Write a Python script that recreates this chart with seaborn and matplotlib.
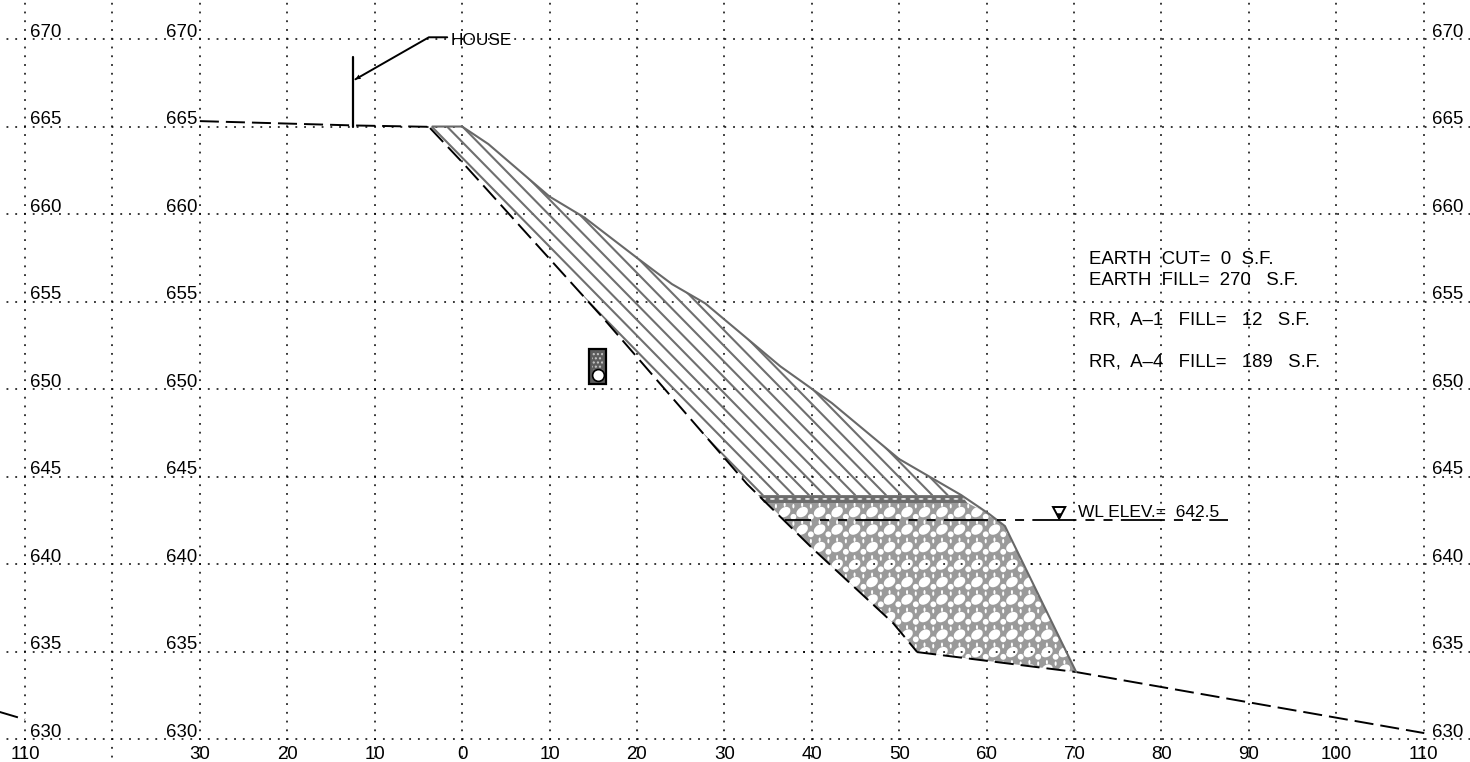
import matplotlib
matplotlib.use("Agg")
import matplotlib.pyplot as plt
from matplotlib.collections import EllipseCollection
from matplotlib.patches import Rectangle
from matplotlib.path import Path
from matplotlib.transforms import Affine2D, IdentityTransform
import numpy as np
import seaborn as sns

# grid and labels
grid_x = [-50, -40, -30, -20, -10, 0, 10, 20, 30, 40, 50, 60, 70, 80, 90, 100, 110]
station_labels = ["110", "", "30", "20", "10", "0", "10", "20", "30", "40", "50", "60", "70", "80", "90", "100", "110"]
elevations = [670, 665, 660, 655, 650, 645, 640, 635, 630]

# existing ground, dashed
top_ground_x = [-30, -12.2, -3.4]
top_ground_y = [665.31, 665.06, 664.98]
slope_ground_x = [-3.66, 0.11, 16.13, 32.6, 40.05, 49.3, 52.06]
slope_ground_y = [664.91, 662.91, 654.06, 644.57, 640.91, 636.63, 634.97]
toe_ground_x = [52.06, 70.25, 110.07]
toe_ground_y = [634.97, 633.83, 630.34]
far_ground_x = [-52.9, -50]
far_ground_y = [631.55, 631.12]

# finished slope, gray
finish_x = [-3.4, 0, 3, 10, 14, 20, 24, 27.8, 36.4, 42.3, 50, 57.1, 60.3, 62.1, 70.25]
finish_y = [665, 665, 664, 661, 659.8, 657.5, 656, 654.9, 651.3, 649.2, 646, 643.94, 642.86, 642.17, 633.83]

# fill zones
a1_x = [-3.4, 0, 3, 10, 14, 20, 24, 27.8, 36.4, 42.3, 50, 57.1, 33.87, 32.6, 16.13, 0.11, -3.66]
a1_y = [665, 665, 664, 661, 659.8, 657.5, 656, 654.9, 651.3, 649.2, 646, 643.94, 643.94, 644.57, 654.06, 662.91, 664.91]
band_x = [33.87, 57.1, 57.8, 34.55]
band_y = [643.94, 643.94, 643.49, 643.49]
a4_x = [34.55, 57.8, 60.3, 62.1, 70.25, 52.06, 49.3, 40.05, 34.9]
a4_y = [643.49, 643.49, 642.86, 642.17, 633.83, 634.97, 636.63, 640.91, 643.49]

# water level and house
wl_x = [36.9, 87.6]
wl_y = [642.5, 642.5]
house_x = [-12.47, -12.47]
house_y = [669, 665]
leader_x = [-12.2, -3.8, -1.7]
leader_y = [667.7, 670.1, 670.1]
triangle_x = [67.6, 69, 68.3]
triangle_y = [643.26, 643.26, 642.6]

quantities = ["EARTH  CUT=  0  S.F.", "EARTH  FILL=  270   S.F.", "RR,  A–1   FILL=   12   S.F.", "RR,  A–4   FILL=   189   S.F."]
quantity_y = [657.14, 655.94, 653.66, 651.31]

FONT = 13.4
DOT_STYLE_X = (2.78, (1.2, 4.53))
DOT_STYLE_Y = (1.47, (1.2, 4.53))

sns.set_theme(style="white")
plt.rcParams["font.family"] = ["Liberation Sans", "DejaVu Sans"]

fig = plt.figure(figsize=(14.7, 7.62), dpi=100)
ax = fig.add_axes([0, 0, 1, 1])
ax.set_xlim(-52.86, 115.3)
ax.set_ylim(628.69, 672.23)
for s in ax.spines.values():
    s.set_visible(False)

ax.set_xticks(grid_x, labels=station_labels)
ax.set_yticks(elevations, labels=[])
ax.tick_params(axis="x", length=0, pad=-11.5, labelsize=FONT, colors="black")
ax.tick_params(axis="y", length=0)
ax.xaxis.grid(True, color="black", linewidth=1.1, linestyle=DOT_STYLE_X)
ax.yaxis.grid(True, color="black", linewidth=1.1, linestyle=DOT_STYLE_Y)
ax.set_axisbelow(True)

for elev in elevations:
    ax.text(-49.4, elev + 0.12, str(elev), fontsize=FONT, va="baseline", ha="left", color="black")
    ax.text(-30.3, elev + 0.12, str(elev), fontsize=FONT, va="baseline", ha="right", color="black")
    ax.text(111.0, elev + 0.12, str(elev), fontsize=FONT, va="baseline", ha="left", color="black")

# rock fill
rock = ax.fill(a4_x, a4_y, color="#9a9a9a", lw=0, zorder=1)[0]
gx, gy = np.meshgrid(np.arange(30.9, 72, 2.0), np.arange(632.97, 644, 1.0))
gx, gy = gx.ravel(), gy.ravel()
shapes = [(0, 0, 9.0, 6.6, 35), (1.0, -0.27, 4.2, 4.2, 0), (0, -0.58, 1.5, 3.2, 0), (1.0, -0.66, 1.5, 3.2, 0)]
for dx, dy, w, h, ang in shapes:
    ec = EllipseCollection(np.full(gx.size, w), np.full(gx.size, h), np.full(gx.size, ang), units="points",
                           offsets=np.column_stack([gx + dx, gy + dy]), offset_transform=ax.transData,
                           facecolors="white", edgecolors="none", zorder=1.1)
    ax.add_collection(ec)
    ec.set_clip_path(rock)

# grid dots only show through the big holes of the rock
holes = []
for cx, cy in ax.transData.transform(np.column_stack([gx, gy])):
    holes.append(Path.unit_circle().transformed(Affine2D().scale(6.2, 4.6).rotate_deg(35).translate(cx, cy)))
hole_path = Path.make_compound_path(*holes)
for elev in [640, 635]:
    dots = ax.axhline(elev, color="black", lw=1.1, linestyle=DOT_STYLE_Y, zorder=1.15)
    dots.set_clip_path(hole_path, IdentityTransform())

# dark band above the rock
band = ax.fill(band_x, band_y, color="#6c6c6c", lw=0, zorder=1.2)[0]
bx = np.arange(34.5, 58, 1.0)
ec = EllipseCollection(np.full(bx.size, 3.6), np.full(bx.size, 1.4), np.zeros(bx.size), units="points",
                       offsets=np.column_stack([bx, np.full(bx.size, 643.72)]), offset_transform=ax.transData,
                       facecolors="#e4e4e4", edgecolors="none", zorder=1.3)
ax.add_collection(ec)
ec.set_clip_path(band)

# diagonal hatch of the A-1 zone
a1_clip = ax.fill(a1_x, a1_y, facecolor="none", edgecolor="none", zorder=1)[0]
for x0 in np.arange(-1.72 - 1.762 * 6, 60, 1.762):
    hatch_line, = ax.plot([x0, x0 + 41.4], [665, 643.94], color="#6f6f6f", lw=1.5, zorder=1.5)
    hatch_line.set_clip_path(a1_clip)

ground_style = (0, (9.8, 3.6))
for xs, ys in [(top_ground_x, top_ground_y), (slope_ground_x, slope_ground_y),
               (toe_ground_x, toe_ground_y), (far_ground_x, far_ground_y)]:
    sns.lineplot(x=xs, y=ys, ax=ax, color="black", linewidth=1.4, linestyle=ground_style,
                 sort=False, estimator=None, zorder=3)

sns.lineplot(x=finish_x, y=finish_y, ax=ax, color="#686868", linewidth=1.5, sort=False, estimator=None, zorder=3)

# water level, long-short-short dashes
sns.lineplot(x=wl_x, y=wl_y, ax=ax, color="black", linewidth=1.3,
             linestyle=(10, (24.4, 5, 5, 5, 5, 4.6)), sort=False, estimator=None, zorder=3)
ax.fill(triangle_x, triangle_y, facecolor="white", edgecolor="black", lw=1.4, zorder=3.1)
ax.fill([67.95, 68.65, 68.3], [642.9, 642.9, 642.5], color="black", lw=0, zorder=3.2)
ax.text(70.5, 642.7, "WL ELEV.=  642.5", fontsize=12.5, va="baseline", ha="left", color="black")

# house
sns.lineplot(x=house_x, y=house_y, ax=ax, color="black", linewidth=1.6, sort=False, estimator=None, zorder=3)
sns.lineplot(x=leader_x, y=leader_y, ax=ax, color="black", linewidth=1.4, sort=False, estimator=None, zorder=3)
ax.annotate("", xy=(leader_x[0], leader_y[0]), xytext=(leader_x[0] + 1.0, leader_y[0] + 0.29),
            arrowprops=dict(arrowstyle="-|>", color="black", lw=0, mutation_scale=9, shrinkA=0, shrinkB=0))
ax.text(-1.3, 669.66, "HOUSE", fontsize=12.4, va="baseline", ha="left", color="black")

# culvert
ax.add_patch(Rectangle((14.53, 650.3), 1.94, 2.0, facecolor="#5c5c5c", edgecolor="black", lw=1.6, zorder=3))
ax.add_patch(Rectangle((14.9, 651.1), 1.2, 1.05, facecolor="none", edgecolor="#c8c8c8", lw=0, hatch="....", zorder=3.1))
ax.scatter([15.5], [650.78], s=72, color="white", edgecolor="black", lw=1.2, zorder=3.2)

for text, y in zip(quantities, quantity_y):
    ax.text(71.7, y, text, fontsize=FONT, va="baseline", ha="left", color="black")

ax.set_xlabel("")
ax.set_ylabel("")
fig.savefig("out.png", dpi=100)
